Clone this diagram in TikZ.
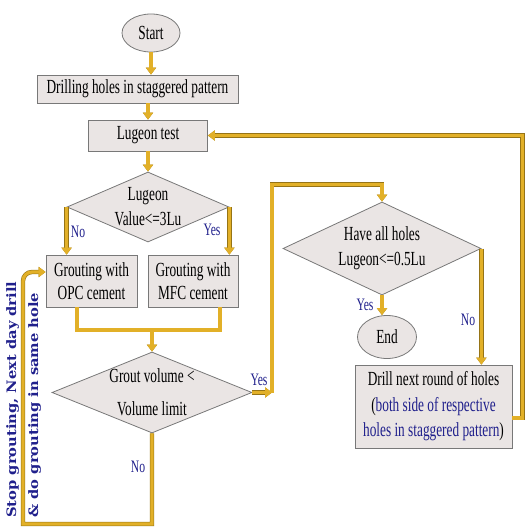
\documentclass[tikz,border=0pt]{standalone}
\usepackage{fontspec}
\setmainfont{Liberation Serif}[FakeStretch=0.665]
\newfontfamily\sidefont{DejaVu Serif}[FakeStretch=1.13]
\usetikzlibrary{shapes.geometric,arrows.meta}

\definecolor{golden}{RGB}{226,176,40}
\definecolor{goldedge}{RGB}{150,116,22}
\definecolor{boxfill}{RGB}{234,229,228}
\definecolor{boxedge}{RGB}{120,120,120}
\definecolor{labelblue}{RGB}{32,32,140}

\tikzset{
  box/.style={draw=boxedge, fill=boxfill, line width=0.8pt, align=center, inner sep=0pt},
  decision/.style={diamond, draw=boxedge, fill=boxfill, line width=0.8pt, inner sep=0pt},
  terminal/.style={ellipse, draw=boxedge, fill=boxfill, line width=0.8pt, inner sep=0pt},
  flow/.style={line width=3.2pt, draw=golden, preaction={draw=goldedge, line width=4.4pt}},
  flowarrow/.style={flow, -{Triangle[width=10pt,length=7pt]}},
  answer/.style={text=labelblue, inner sep=0pt, font=\fontsize{17.5}{20}\selectfont},
}

\begin{document}
\begin{tikzpicture}[x=1pt, y=-1pt, font=\fontsize{20}{24}\selectfont, line join=miter]
\useasboundingbox (0,0) rectangle (525,527);

% main column
\node[terminal, minimum width=58pt, minimum height=38pt] (start) at (151,33) {Start};
\node[box, minimum width=201pt, minimum height=28pt] (drill) at (137.5,89) {Drilling holes in staggered pattern};
\node[box, minimum width=119pt, minimum height=31pt] (lugeon) at (148,135.5) {Lugeon test};
\node[decision, minimum width=162pt, minimum height=70pt] (check1) at (148,207) {};
\node[align=center, inner sep=0pt, font=\fontsize{20}{25}\selectfont] (check1txt) at (check1) {Lugeon\\Value<=3Lu};
\node[box, minimum width=91pt, minimum height=52pt, font=\fontsize{20}{23}\selectfont] (opc) at (91.5,281) {Grouting with\\OPC cement};
\node[box, minimum width=90pt, minimum height=52pt, font=\fontsize{20}{23}\selectfont] (mfc) at (193,281) {Grouting with\\MFC cement};
\coordinate (merge) at (152,330);
\node[decision, minimum width=200pt, minimum height=81pt] (grout) at (152,392.5) {};
\node[align=center, inner sep=0pt, font=\fontsize{20}{33}\selectfont] (grouttxt) at (grout) {Grout volume <\\Volume limit};

% right column
\node[decision, minimum width=198pt, minimum height=93pt] (check3) at (382,248.5) {};
\node[align=center, inner sep=0pt, font=\fontsize{20}{25}\selectfont] (check3txt) at (check3) {Have all holes\\Lugeon<=0.5Lu};
\node[terminal, minimum width=59pt, minimum height=43pt] (finish) at (387,337) {End};
\node[box, minimum width=157pt, minimum height=83pt, font=\fontsize{20}{25.5}\selectfont] (nextround) at (433.5,406.5)
  {Drill next round of holes\\(\textcolor{labelblue}{both side of respective}\\\textcolor{labelblue}{holes in staggered pattern})};
\coordinate (yesturn) at (272,392.5);
\coordinate (loopbase) at (23,524);

% connectors
\draw[flowarrow] (start.south) -- (start.south |- drill.north);
\draw[flowarrow] (lugeon.north |- drill.south) -- (lugeon.north);
\draw[flowarrow] (lugeon.south) -- (check1.north);
\draw[flowarrow] (check1.west) -- (check1.west |- opc.north);
\draw[flowarrow] (check1.east) -- (check1.east |- mfc.north);
\draw[flow] ([xshift=-14.5pt]opc.south) |- (merge) -| ([xshift=27pt]mfc.south);
\draw[flowarrow] (merge) -- (grout.north);
\draw[flowarrow] (grout.east) -- (yesturn);
\draw[flowarrow] (yesturn) |- ([yshift=17pt]check3.north) -- (check3.north);
\draw[flowarrow] (check3.south) -- (check3.south |- finish.north);
\draw[flowarrow] (check3.east) -- (check3.east |- nextround.north);
\draw[flowarrow] ([yshift=-11.5pt]nextround.east) -- ++(10,0) |- (lugeon.east);
\draw[flowarrow] (grout.south) |- (loopbase) [rounded corners=9pt] |- ([yshift=9pt]opc.west);

% labels
\node[answer] (no1) at (78,232) {No};
\node[answer] (yes1) at (212,230) {Yes};
\node[answer] (yes2) at (259,380) {Yes};
\node[answer] (no2) at (138,467) {No};
\node[answer] (yes3) at (365,305) {Yes};
\node[answer] (no3) at (468,320) {No};
\node[rotate=90, anchor=north west, align=left, inner sep=0pt, text=labelblue,
  font=\sidefont\bfseries\fontsize{13}{22}\selectfont] (stopnote) at (6,518)
  {Stop grouting, Next day drill\\\& do grouting in same hole};
\end{tikzpicture}
\end{document}
